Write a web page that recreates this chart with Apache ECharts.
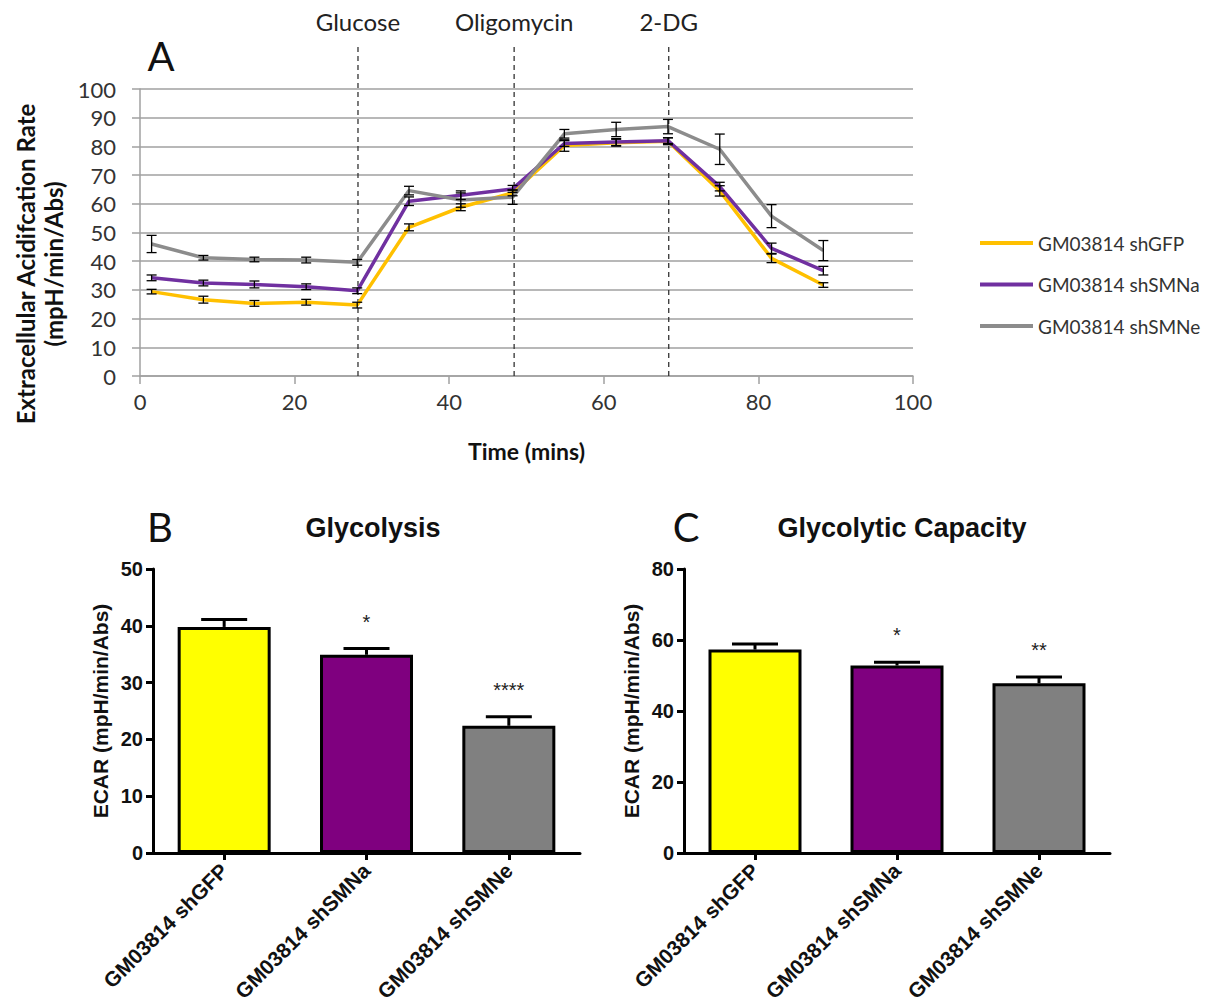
<!DOCTYPE html>
<html>
<head>
<meta charset="utf-8">
<title>ECAR – glycolysis stress test</title>
<script src="https://cdn.jsdelivr.net/npm/echarts@6.0.0/dist/echarts.min.js"></script>
<style>
  html, body { margin: 0; padding: 0; background: #ffffff; }
  #chart { width: 1205px; height: 1007px; }
</style>
</head>
<body>
<div id="chart"></div>
<script>
// ---- Panel A: ECAR time course (mean ± error) ----
const timeMins = [1.5, 8.2, 14.8, 21.5, 28.1, 34.8, 41.5, 48.2, 54.9, 61.6, 68.3, 75.0, 81.7, 88.4];
const lineNames = ['GM03814 shGFP', 'GM03814 shSMNa', 'GM03814 shSMNe'];
const ecarShGFP  = [29.4, 26.6, 25.3, 25.7, 24.7, 51.8, 58.8, 63.8, 80.3, 81.3, 81.8, 64.5, 41.0, 31.7];
const errShGFP   = [0.8, 1.2, 1.0, 1.0, 1.0, 1.2, 1.2, 1.0, 2.0, 1.2, 1.2, 1.8, 1.5, 0.8];
const ecarShSMNa = [34.2, 32.4, 31.9, 31.1, 29.7, 60.9, 63.0, 65.2, 81.0, 81.5, 82.0, 66.0, 44.5, 36.7];
const errShSMNa  = [1.0, 1.0, 1.2, 1.0, 1.0, 1.5, 1.5, 1.2, 1.0, 1.2, 1.0, 1.5, 1.8, 1.5];
const ecarShSMNe = [46.0, 41.2, 40.6, 40.4, 39.6, 64.6, 61.3, 62.3, 84.4, 85.9, 86.9, 79.0, 55.7, 43.7];
const errShSMNe  = [3.0, 0.8, 0.8, 1.0, 1.0, 1.5, 2.5, 2.5, 1.5, 2.5, 2.5, 5.3, 4.0, 3.5];
const injectionNames = ['Glucose', 'Oligomycin', '2-DG'];
const injectionTimes = [28.2, 48.4, 68.4];

// ---- Panels B and C: summary bars ----
const barCategories = ['GM03814 shGFP', 'GM03814 shSMNa', 'GM03814 shSMNe'];
const glycolysis     = [39.8, 34.9, 22.4];
const glycolysisErr  = [1.3, 1.1, 1.6];
const glycolysisSig  = ['', '*', '****'];
const capacity       = [57.3, 52.8, 47.8];
const capacityErr    = [1.6, 0.9, 1.8];
const capacitySig    = ['', '*', '**'];

const lineColors = ['#FFC000', '#7030A0', '#8C8C8C'];
const barColors  = ['#FFFF00', '#7F007F', '#808080'];

const calibriLike = 'Lato, "Open Sans", sans-serif';
const arialLike = '"Liberation Sans", Arial, sans-serif';

const chart = echarts.init(document.getElementById('chart'), null, { renderer: 'svg' });

function lineSeries(name, vals, idx) {
  return {
    name, type: 'line', xAxisIndex: 0, yAxisIndex: 0,
    data: timeMins.map((t, i) => [t, vals[i]]),
    symbol: 'none', showSymbol: false, z: 2,
    lineStyle: { color: lineColors[idx], width: 3.5 },
    itemStyle: { color: lineColors[idx] }
  };
}

function lineErrors(vals, errs) {
  return {
    type: 'custom', xAxisIndex: 0, yAxisIndex: 0, z: 4, silent: true,
    data: timeMins.map((t, i) => [t, vals[i], errs[i]]),
    renderItem(params, api) {
      const x = api.value(0), y = api.value(1), e = api.value(2);
      const hi = api.coord([x, y + e]), lo = api.coord([x, y - e]);
      const w = 5, st = { stroke: '#000', lineWidth: 1.3 };
      return { type: 'group', children: [
        { type: 'line', shape: { x1: hi[0], y1: hi[1], x2: lo[0], y2: lo[1] }, style: st },
        { type: 'line', shape: { x1: hi[0] - w, y1: hi[1], x2: hi[0] + w, y2: hi[1] }, style: st },
        { type: 'line', shape: { x1: lo[0] - w, y1: lo[1], x2: lo[0] + w, y2: lo[1] }, style: st }
      ]};
    }
  };
}

function barSeries(axisIdx, vals) {
  return {
    type: 'bar', xAxisIndex: axisIdx, yAxisIndex: axisIdx,
    barWidth: 93, z: 2,
    data: vals.map((v, i) => ({ value: v, itemStyle: { color: barColors[i] } })),
    itemStyle: { borderColor: '#000', borderWidth: 3 }
  };
}

function barErrors(axisIdx, vals, errs, sig) {
  return {
    type: 'custom', xAxisIndex: axisIdx, yAxisIndex: axisIdx, z: 3, silent: true, clip: false,
    data: vals.map((v, i) => [i, v, errs[i]]),
    renderItem(params, api) {
      const c = api.value(0), v = api.value(1), e = api.value(2);
      const base = api.coord([c, v]), top = api.coord([c, v + e]);
      const w = 23, st = { stroke: '#000', lineWidth: 3 };
      const kids = [
        { type: 'line', shape: { x1: base[0], y1: base[1], x2: top[0], y2: top[1] }, style: st },
        { type: 'line', shape: { x1: top[0] - w, y1: top[1], x2: top[0] + w, y2: top[1] }, style: st }
      ];
      const s = sig[params.dataIndex];
      if (s) {
        kids.push({ type: 'text', style: {
          text: s, x: top[0], y: top[1] - 27, align: 'center', verticalAlign: 'middle',
          fontFamily: arialLike, fontSize: 20, fill: '#222'
        }});
      }
      return { type: 'group', children: kids };
    }
  };
}

const injectionSeries = {
  type: 'custom', xAxisIndex: 0, yAxisIndex: 0, z: 1, silent: true, clip: false,
  data: injectionTimes.map((t, i) => [t, i]),
  renderItem(params, api) {
    const x = api.value(0);
    const b = api.coord([x, 0]), t = api.coord([x, 100]);
    return { type: 'group', children: [
      { type: 'line', shape: { x1: b[0], y1: b[1], x2: b[0], y2: t[1] - 44 },
        style: { stroke: '#333', lineWidth: 1.3, lineDash: [5, 4] } },
      { type: 'text', style: {
          text: injectionNames[params.dataIndex], x: b[0], y: t[1] - 68,
          align: 'center', verticalAlign: 'middle',
          fontFamily: calibriLike, fontSize: 24, fill: '#222' } }
    ]};
  }
};

const gray = '#A0A0A0';
const barAxisStyle = {
  axisLine: { show: true, lineStyle: { color: '#000', width: 3 } },
  axisTick: { show: true, length: 7, lineStyle: { color: '#000', width: 3 } },
  splitLine: { show: false }
};

const option = {
  animation: false,
  backgroundColor: '#ffffff',
  title: [
    { text: 'Glycolysis', left: 368, top: 523, textAlign: 'center', textVerticalAlign: 'middle',
      textStyle: { fontFamily: arialLike, fontWeight: 'bold', fontSize: 27, color: '#111' } },
    { text: 'Glycolytic Capacity', left: 897, top: 523, textAlign: 'center', textVerticalAlign: 'middle',
      textStyle: { fontFamily: arialLike, fontWeight: 'bold', fontSize: 27, color: '#111' } }
  ],
  legend: {
    data: lineNames, orient: 'vertical', left: 975, top: 226,
    icon: 'path://M0,0 L53,0 L53,4 L0,4 Z',
    itemWidth: 53, itemHeight: 4, itemGap: 17.5,
    textStyle: { fontFamily: calibriLike, fontSize: 19, color: '#333', lineHeight: 24, padding: [0, 0, 0, 0] },
    selectedMode: false
  },
  grid: [
    { left: 140, top: 89, width: 773, height: 287 },
    { left: 153, top: 569, width: 427, height: 284 },
    { left: 684, top: 569, width: 426, height: 284 }
  ],
  xAxis: [
    { type: 'value', gridIndex: 0, min: 0, max: 100, interval: 20,
      name: 'Time (mins)', nameLocation: 'middle', nameGap: 63,
      nameTextStyle: { fontFamily: calibriLike, fontWeight: 'bold', fontSize: 23, color: '#111' },
      axisLine: { show: true, lineStyle: { color: gray, width: 1.5 } },
      axisTick: { show: true, length: 8, lineStyle: { color: gray, width: 1.5 } },
      axisLabel: { fontFamily: calibriLike, fontSize: 22, color: '#333', margin: 14 },
      splitLine: { show: false } },
    { type: 'category', gridIndex: 1, data: barCategories, boundaryGap: true,
      ...barAxisStyle,
      axisTick: { show: true, alignWithLabel: true, length: 7, lineStyle: { color: '#000', width: 3 } },
      axisLabel: { rotate: 45, interval: 0, margin: 14, fontFamily: arialLike, fontWeight: 'bold', fontSize: 21, color: '#111' } },
    { type: 'category', gridIndex: 2, data: barCategories, boundaryGap: true,
      ...barAxisStyle,
      axisTick: { show: true, alignWithLabel: true, length: 7, lineStyle: { color: '#000', width: 3 } },
      axisLabel: { rotate: 45, interval: 0, margin: 14, fontFamily: arialLike, fontWeight: 'bold', fontSize: 21, color: '#111' } }
  ],
  yAxis: [
    { type: 'value', gridIndex: 0, min: 0, max: 100, interval: 10,
      axisLine: { show: true, lineStyle: { color: gray, width: 1.5 } },
      axisTick: { show: true, length: 8, lineStyle: { color: gray, width: 1.5 } },
      axisLabel: { fontFamily: calibriLike, fontSize: 22, color: '#333', margin: 24 },
      splitLine: { show: true, lineStyle: { color: gray, width: 1.5 } } },
    { type: 'value', gridIndex: 1, min: 0, max: 50, interval: 10,
      name: 'ECAR (mpH/min/Abs)', nameLocation: 'middle', nameGap: 42,
      nameTextStyle: { fontFamily: arialLike, fontWeight: 'bold', fontSize: 21, color: '#111' },
      ...barAxisStyle,
      axisLabel: { fontFamily: arialLike, fontWeight: 'bold', fontSize: 20, color: '#111', margin: 10 } },
    { type: 'value', gridIndex: 2, min: 0, max: 80, interval: 20,
      name: 'ECAR (mpH/min/Abs)', nameLocation: 'middle', nameGap: 42,
      nameTextStyle: { fontFamily: arialLike, fontWeight: 'bold', fontSize: 21, color: '#111' },
      ...barAxisStyle,
      axisLabel: { fontFamily: arialLike, fontWeight: 'bold', fontSize: 20, color: '#111', margin: 10 } }
  ],
  graphic: [
    { type: 'text', x: 161, y: 56, style: { text: 'A', font: '40px ' + calibriLike, fill: '#111', align: 'center', verticalAlign: 'middle' } },
    { type: 'text', x: 160, y: 527, style: { text: 'B', font: '40px ' + calibriLike, fill: '#111', align: 'center', verticalAlign: 'middle' } },
    { type: 'text', x: 686, y: 527, style: { text: 'C', font: '40px ' + calibriLike, fill: '#111', align: 'center', verticalAlign: 'middle' } },
    { type: 'text', x: 39, y: 264, rotation: Math.PI / 2,
      style: { text: 'Extracellular Acidifcation Rate\n(mpH/min/Abs)', font: 'bold 24px ' + calibriLike,
               lineHeight: 28, fill: '#111', align: 'center', verticalAlign: 'middle' } }
  ],
  series: [
    injectionSeries,
    lineSeries(lineNames[0], ecarShGFP, 0),
    lineSeries(lineNames[1], ecarShSMNa, 1),
    lineSeries(lineNames[2], ecarShSMNe, 2),
    lineErrors(ecarShGFP, errShGFP),
    lineErrors(ecarShSMNa, errShSMNa),
    lineErrors(ecarShSMNe, errShSMNe),
    barSeries(1, glycolysis),
    barErrors(1, glycolysis, glycolysisErr, glycolysisSig),
    barSeries(2, capacity),
    barErrors(2, capacity, capacityErr, capacitySig)
  ]
};

chart.setOption(option);
</script>
</body>
</html>
